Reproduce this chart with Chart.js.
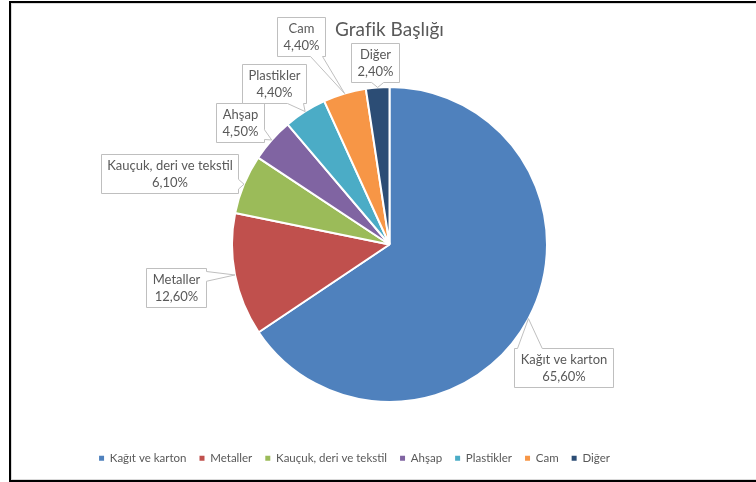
<!DOCTYPE html>
<html lang="tr">
<head>
<meta charset="utf-8">
<title>Grafik Başlığı</title>
<script src="https://cdn.jsdelivr.net/npm/chart.js@4.4.0/dist/chart.umd.min.js"></script>
<style>
  html, body { margin: 0; padding: 0; background: #fff; width: 756px; height: 482px; overflow: hidden; }
  #frame { position: absolute; left: 9px; top: 1px; width: 800px; height: 477px; border: 2px solid #000; border-right: none; }
  #frame .edge { position: absolute; left: 0; top: 0; right: 0; bottom: 0; border: 1px solid #d9d9d9; }
  #wrap { position: absolute; left: 11px; top: 3px; width: 757px; height: 477px; }
</style>
</head>
<body>
<div id="frame"><div class="edge"></div></div>
<div id="wrap"><canvas id="chart"></canvas></div>
<script>
// Waste composition shares (%)
const categories = ['Kağıt ve karton', 'Metaller', 'Kauçuk, deri ve tekstil', 'Ahşap', 'Plastikler', 'Cam', 'Diğer'];
const shares = [65.6, 12.6, 6.1, 4.5, 4.4, 4.4, 2.4];
const sliceColors = ['#4F81BD', '#C0504D', '#9BBB59', '#8064A2', '#4BACC6', '#F79646', '#2C4D75'];
const chartTitle = 'Grafik Başlığı';

// Where each callout box sits, relative to the point on the slice edge it points at
const calloutShift = [[35.5, 49], [-59, 12.5], [-74, -10.7], [-31.7, -17.5], [-31, -28], [-43.6, -57.5], [-3, -25]];

const FONT = 'Lato, "Open Sans", sans-serif';
const TEXT_COLOR = '#595959';
const CALLOUT_FONT_SIZE = 13;
const CALLOUT_LINE = 17;

const formatShare = v => v.toFixed(2).replace('.', ',') + '%';

// Rectangle with a wedge pointing from the nearest edge to (ax, ay)
function calloutPath(ctx, x0, y0, x1, y1, ax, ay) {
  const cx = (x0 + x1) / 2, cy = (y0 + y1) / 2;
  const hw = (x1 - x0) / 2, hh = (y1 - y0) / 2;
  const dx = ax - cx, dy = ay - cy;
  let side;
  if (Math.abs(dx) / hw > Math.abs(dy) / hh) side = dx > 0 ? 'right' : 'left';
  else side = dy > 0 ? 'bottom' : 'top';
  const horiz = side === 'top' || side === 'bottom';
  const lo = horiz ? x0 : y0, hi = horiz ? x1 : y1;
  const bw = Math.max(7, (hi - lo) * 0.25);
  let c = horiz ? ax : ay;
  c = Math.min(Math.max(c, lo + bw / 2 + 3), hi - bw / 2 - 3);
  const a = c - bw / 2, b = c + bw / 2;
  const pts = [[x0, y0]];
  if (side === 'top') pts.push([a, y0], [ax, ay], [b, y0]);
  pts.push([x1, y0]);
  if (side === 'right') pts.push([x1, a], [ax, ay], [x1, b]);
  pts.push([x1, y1]);
  if (side === 'bottom') pts.push([b, y1], [ax, ay], [a, y1]);
  pts.push([x0, y1]);
  if (side === 'left') pts.push([x0, b], [ax, ay], [x0, a]);
  ctx.beginPath();
  pts.forEach(([px, py], i) => i ? ctx.lineTo(px, py) : ctx.moveTo(px, py));
  ctx.closePath();
}

const calloutPlugin = {
  id: 'callouts',
  afterDatasetsDraw(chart) {
    const ctx = chart.ctx;
    const meta = chart.getDatasetMeta(0);
    ctx.save();
    ctx.font = CALLOUT_FONT_SIZE + 'px ' + FONT;
    meta.data.forEach((arc, i) => {
      const p = arc.getProps(['x', 'y', 'startAngle', 'endAngle', 'outerRadius'], true);
      const mid = (p.startAngle + p.endAngle) / 2;
      const ax = p.x + Math.cos(mid) * p.outerRadius;
      const ay = p.y + Math.sin(mid) * p.outerRadius;
      const lines = [categories[i], formatShare(shares[i])];
      const tw = Math.max(...lines.map(l => ctx.measureText(l).width));
      const w = Math.round(tw + 12), h = lines.length * CALLOUT_LINE + 5;
      const cx = ax + calloutShift[i][0], cy = ay + calloutShift[i][1];
      const x0 = Math.round(cx - w / 2) + 0.5, y0 = Math.round(cy - h / 2) + 0.5;
      calloutPath(ctx, x0, y0, x0 + w, y0 + h, ax, ay);
      ctx.fillStyle = '#ffffff';
      ctx.fill();
      ctx.lineWidth = 1;
      ctx.strokeStyle = '#bfbfbf';
      ctx.stroke();
      ctx.fillStyle = TEXT_COLOR;
      ctx.textAlign = 'center';
      ctx.textBaseline = 'middle';
      const midY = y0 + h / 2;
      lines.forEach((l, k) => {
        ctx.fillText(l, x0 + w / 2, midY + (k - (lines.length - 1) / 2) * CALLOUT_LINE);
      });
    });
    ctx.restore();
  }
};

// The legend row sits a little left of the pie's centre line
const legendShift = {
  id: 'legendShift',
  afterLayout(chart) {
    const lg = chart.legend;
    if (lg) { lg.left -= 35; lg.right -= 35; }
  }
};

const baseLabels = Chart.overrides.pie.plugins.legend.labels.generateLabels;

new Chart(document.getElementById('chart'), {
  type: 'pie',
  data: {
    labels: categories,
    datasets: [{
      data: shares,
      backgroundColor: sliceColors,
      borderColor: '#ffffff',
      borderWidth: 2,
      radius: 157.5
    }]
  },
  options: {
    responsive: true,
    maintainAspectRatio: false,
    animation: false,
    layout: { padding: { top: 0, bottom: 6, left: 0, right: 0 } },
    plugins: {
      title: {
        display: true,
        text: chartTitle,
        color: TEXT_COLOR,
        font: { family: FONT, size: 19, weight: 'normal' },
        padding: { top: 15.6, bottom: 8.1 }
      },
      legend: {
        position: 'bottom',
        labels: {
          color: TEXT_COLOR,
          font: { family: FONT, size: 11.5 },
          boxWidth: 5,
          boxHeight: 5,
          padding: 13,
          generateLabels(chart) {
            return baseLabels(chart).map(item => Object.assign(item, { strokeStyle: item.fillStyle, lineWidth: 0 }));
          }
        }
      },
      tooltip: { enabled: false }
    }
  },
  plugins: [calloutPlugin, legendShift]
});
</script>
</body>
</html>
